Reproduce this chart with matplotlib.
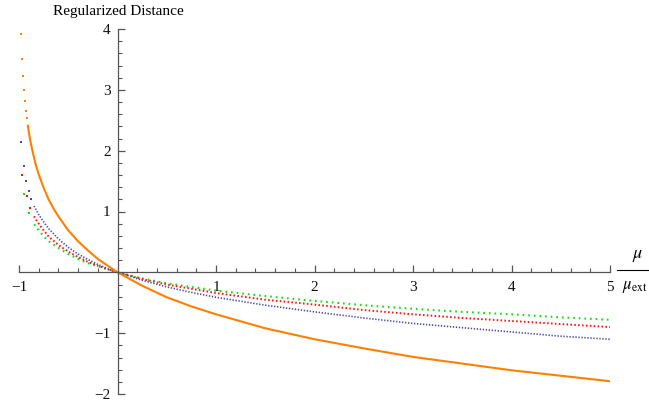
import matplotlib
matplotlib.use("Agg")
import matplotlib.pyplot as plt
from matplotlib.lines import Line2D
from matplotlib.ticker import MultipleLocator

plt.rcParams["font.family"] = ["Liberation Serif", "DejaVu Serif"]
plt.rcParams["mathtext.fontset"] = "stix"

# orange curve: isolated samples near the pole, then the dense part
orange_dots_x = [-0.98, -0.97, -0.96, -0.95, -0.94, -0.93, -0.92, -0.91]
orange_dots_y = [3.91, 3.51, 3.22, 3.00, 2.81, 2.66, 2.53, 2.41]
orange_x = [-0.91, -0.9, -0.88, -0.86, -0.83, -0.8, -0.75, -0.7, -0.65, -0.6, -0.5, -0.4,
            -0.3, -0.2, -0.1, 0, 0.25, 0.5, 0.75, 1, 1.5, 2, 2.5, 3, 3.5, 4, 4.5, 5]
orange_y = [2.41, 2.30, 2.12, 1.97, 1.77, 1.61, 1.39, 1.20, 1.05, 0.92, 0.69, 0.51,
            0.36, 0.22, 0.11, 0, -0.22, -0.41, -0.56, -0.69, -0.92, -1.10, -1.25, -1.39,
            -1.50, -1.61, -1.70, -1.79]

# blue points
blue_dots_x = [-0.980, -0.952, -0.929, -0.902, -0.875]
blue_dots_y = [2.15, 1.74, 1.50, 1.34, 1.21]
blue_x = [-0.848, -0.8, -0.75, -0.7, -0.6, -0.5, -0.4, -0.3, -0.2, -0.1, 0,
          0.25, 0.5, 0.75, 1, 1.5, 2, 2.5, 3, 3.5, 4, 4.5, 5]
blue_y = [1.09, 0.95, 0.83, 0.72, 0.55, 0.41, 0.30, 0.21, 0.13, 0.06, 0,
          -0.13, -0.24, -0.33, -0.41, -0.54, -0.65, -0.75, -0.84, -0.91, -0.98, -1.05, -1.10]

# red points
red_dots_x = [-0.966, -0.922, -0.885]
red_dots_y = [1.60, 1.26, 1.06]
red_x = [-0.848, -0.8, -0.75, -0.7, -0.6, -0.5, -0.4, -0.3, -0.2, -0.1, 0,
         0.25, 0.5, 0.75, 1, 1.5, 2, 2.5, 3, 3.5, 4, 4.5, 5]
red_y = [0.92, 0.80, 0.69, 0.59, 0.45, 0.34, 0.25, 0.17, 0.11, 0.05, 0,
         -0.11, -0.20, -0.27, -0.34, -0.45, -0.53, -0.62, -0.69, -0.75, -0.80, -0.85, -0.90]

# green points
green_dots_x = [-0.949, -0.898]
green_dots_y = [1.29, 0.98]
green_x = [-0.845, -0.79, -0.736, -0.682, -0.6, -0.5, -0.4, -0.3, -0.2, -0.1, 0,
           0.25, 0.5, 0.75, 1, 1.5, 2, 2.5, 3, 3.5, 4, 4.5, 5]
green_y = [0.79, 0.67, 0.57, 0.49, 0.40, 0.30, 0.22, 0.15, 0.10, 0.05, 0,
           -0.10, -0.18, -0.24, -0.30, -0.39, -0.47, -0.54, -0.60, -0.65, -0.69, -0.74, -0.78]

x_ticks = [-1, 1, 2, 3, 4, 5]
y_ticks = [-2, -1, 1, 2, 3, 4]

ORANGE = "#FF8000"
BLUE = "#4A4AA6"
RED = "#FF1010"
GREEN = "#10E010"
AXIS = "#555555"

fig = plt.figure(figsize=(6.49, 4.04), dpi=100)
ax = fig.add_axes([19 / 649, 10 / 404, 591 / 649, 365 / 404])
ax.set_xlim(-1, 5)
ax.set_ylim(-2, 4)

# dotted series
ax.plot(green_x, green_y, color=GREEN, lw=1.5, linestyle=(0, (0.8, 1.9)), dash_capstyle="butt")
ax.plot(green_dots_x, green_dots_y, "s", color=GREEN, ms=1.6, mew=0)
ax.plot(red_x, red_y, color=RED, lw=1.4, linestyle=(0, (0.8, 1.2)), dash_capstyle="butt")
ax.plot(red_dots_x, red_dots_y, "s", color=RED, ms=1.6, mew=0)
ax.plot(blue_x, blue_y, color=BLUE, lw=1.2, linestyle=(0, (0.8, 1.0)), dash_capstyle="butt")
ax.plot(blue_dots_x, blue_dots_y, "s", color=BLUE, ms=1.5, mew=0)

ax.plot(orange_x, orange_y, color=ORANGE, lw=1.5)
ax.plot(orange_dots_x, orange_dots_y, "s", color=ORANGE, ms=1.5, mew=0, clip_on=False)

# Mathematica style axes crossing at the origin
for side in ["left", "bottom"]:
    ax.spines[side].set_position("zero")
    ax.spines[side].set_color(AXIS)
    ax.spines[side].set_linewidth(0.9)
for side in ["top", "right"]:
    ax.spines[side].set_visible(False)

ax.set_xticks(x_ticks)
ax.set_yticks(y_ticks)
ax.set_xticklabels([str(t).replace("-", "\u2212") for t in x_ticks])
ax.set_yticklabels([str(t).replace("-", "\u2212") for t in y_ticks])
ax.xaxis.set_minor_locator(MultipleLocator(0.2))
ax.yaxis.set_minor_locator(MultipleLocator(0.2))
ax.tick_params(which="both", direction="in", color=AXIS, labelsize=11, labelcolor="#111111")
ax.tick_params(which="major", length=5, width=0.9)
ax.tick_params(which="minor", length=3, width=0.8)
ax.tick_params(axis="x", which="major", pad=6)
ax.tick_params(axis="y", which="major", pad=5)

fig.text(118 / 649, 1 - 12 / 404, "Regularized Distance", ha="center", va="center", fontsize=11)

# x axis label drawn as a fraction mu / mu_ext
fig.text(638 / 649, 1 - 256 / 404, r"$\mu$", ha="center", va="center", fontsize=13)
fig.add_artist(Line2D([617 / 649, 1.0], [1 - 270 / 404, 1 - 270 / 404],
                      transform=fig.transFigure, color="black", lw=0.8))
fig.text(622 / 649, 1 - 287 / 404, r"$\mu_{\mathrm{ext}}$", ha="left", va="center", fontsize=12)

fig.savefig("out.png", dpi=100)
